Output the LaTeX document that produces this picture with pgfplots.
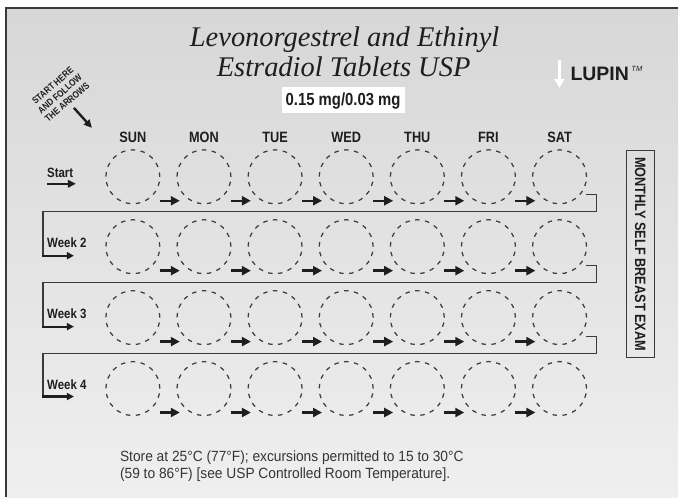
\documentclass[border=0pt]{standalone}
\usepackage{fontspec}
\usepackage{pgfplots}
\pgfplotsset{compat=1.18}
\usetikzlibrary{arrows.meta}
\setmainfont{Liberation Sans}
\newfontfamily\cond[FakeStretch=0.85]{Liberation Sans}
\newfontfamily\condwide[FakeStretch=0.93]{Liberation Sans}
\newfontfamily\serifit{Liberation Serif}
\definecolor{ink}{HTML}{1E1E1E}
\definecolor{rule}{HTML}{3A3A3A}
\definecolor{circ}{HTML}{3E3E3E}
\definecolor{bgtop}{HTML}{D7D7D7}
\definecolor{bgbot}{HTML}{EFEFEF}
\tikzset{txt/.style={inner sep=0pt, text=ink}}

\begin{document}
\begin{tikzpicture}
\begin{axis}[
  width=679bp, height=498bp, scale only axis,
  xmin=0, xmax=679, ymin=0, ymax=498, y dir=reverse,
  hide axis, clip=false,
]
% page and card background
\addplot[draw=none, fill=white] coordinates {(0,0) (679,0) (679,498) (0,498)};
\addplot[draw=none, top color=bgtop, bottom color=bgbot] coordinates {(6,8) (679,8) (679,498) (6,498)};
\addplot[rule, line width=1.6bp] coordinates {(6,498) (6,8) (679,8)};

% blister cavities, 4 weeks x 7 days
\addplot[only marks, mark=o, mark size=27bp,
  mark options={draw=circ, line width=1.25bp, dash pattern=on 4.5bp off 5.5bp}]
  coordinates {
  (133,177) (204.2,177) (275.4,177) (346.6,177) (417.8,177) (489,177) (560.2,177)
  (133,247) (204.2,247) (275.4,247) (346.6,247) (417.8,247) (489,247) (560.2,247)
  (133,318) (204.2,318) (275.4,318) (346.6,318) (417.8,318) (489,318) (560.2,318)
  (133,389) (204.2,389) (275.4,389) (346.6,389) (417.8,389) (489,389) (560.2,389)
  };

% day-to-day arrows
\addplot[ink, line width=2.4bp, quiver={u=20, v=0}, -{Triangle[length=9bp,width=9bp]}]
  coordinates {
  (160,201) (231.2,201) (302.4,201) (373.6,201) (444.8,201) (516,201)
  (160,271) (231.2,271) (302.4,271) (373.6,271) (444.8,271) (516,271)
  (160,342) (231.2,342) (302.4,342) (373.6,342) (444.8,342) (516,342)
  (160,413) (231.2,413) (302.4,413) (373.6,413) (444.8,413) (516,413)
  };

% week return paths
\addplot[rule, line width=1.4bp] coordinates {(587,195) (597,195) (597,212) (43,212) (43,256)};
\addplot[ink, line width=2.2bp, -{Triangle[length=7bp,width=7bp]}] coordinates {(42.3,256) (74,256)};
\addplot[rule, line width=1.4bp] coordinates {(587,266) (597,266) (597,283) (43,283) (43,327)};
\addplot[ink, line width=2.2bp, -{Triangle[length=7bp,width=7bp]}] coordinates {(42.3,327) (74,327)};
\addplot[rule, line width=1.4bp] coordinates {(587,337) (597,337) (597,354) (43,354) (43,397)};
\addplot[ink, line width=2.2bp, -{Triangle[length=7bp,width=7bp]}] coordinates {(42.3,397) (74,397)};

% start arrows
\addplot[ink, line width=2.4bp, -{Triangle[length=8bp,width=7.5bp]}] coordinates {(47,184) (76,184)};
\addplot[ink, line width=2.4bp, -{Triangle[length=8bp,width=7.5bp]}] coordinates {(74,108) (92,128)};

% strength box and exam box
\addplot[draw=none, fill=white] coordinates {(282,87) (405,87) (405,113) (282,113)};
\addplot[rule, line width=1.3bp, line join=miter] coordinates {(627,151) (655,151) (655,358) (627,358) (627,151) (655,151)};

% logo mark
\addplot[white, line width=3.2bp, -{Triangle[length=9bp,width=10bp]}] coordinates {(560,60) (560,88)};

% title
\node[txt, anchor=base, font={\serifit\itshape\fontsize{28.5bp}{30bp}\selectfont}] at (axis cs:345,47) {Levonorgestrel and Ethinyl};
\node[txt, anchor=base, font={\serifit\itshape\fontsize{28.5bp}{30bp}\selectfont}] at (axis cs:344,77) {Estradiol Tablets USP};
\node[txt, anchor=base, font={\cond\bfseries\fontsize{17.5bp}{20bp}\selectfont}] at (axis cs:343.5,106) {0.15 mg/0.03 mg};

% logo text
\node[txt, anchor=base west, font={\bfseries\fontsize{19.5bp}{21bp}\selectfont}] at (axis cs:571,80.5) {LUPIN};
\node[txt, anchor=base west, font={\itshape\fontsize{7.5bp}{8bp}\selectfont}] at (axis cs:632,72) {TM};

% start here note
\node[txt, rotate=41, align=center, font={\cond\bfseries\fontsize{9.5bp}{11bp}\selectfont}] at (axis cs:60,94) {START HERE\\AND FOLLOW\\THE ARROWS};

% day names
\node[txt, anchor=base, font={\cond\bfseries\fontsize{15bp}{17bp}\selectfont}] at (axis cs:133,142.5) {SUN};
\node[txt, anchor=base, font={\cond\bfseries\fontsize{15bp}{17bp}\selectfont}] at (axis cs:204.2,142.5) {MON};
\node[txt, anchor=base, font={\cond\bfseries\fontsize{15bp}{17bp}\selectfont}] at (axis cs:275.4,142.5) {TUE};
\node[txt, anchor=base, font={\cond\bfseries\fontsize{15bp}{17bp}\selectfont}] at (axis cs:346.6,142.5) {WED};
\node[txt, anchor=base, font={\cond\bfseries\fontsize{15bp}{17bp}\selectfont}] at (axis cs:417.8,142.5) {THU};
\node[txt, anchor=base, font={\cond\bfseries\fontsize{15bp}{17bp}\selectfont}] at (axis cs:489,142.5) {FRI};
\node[txt, anchor=base, font={\cond\bfseries\fontsize{15bp}{17bp}\selectfont}] at (axis cs:560.2,142.5) {SAT};

% week labels
\node[txt, anchor=base west, font={\cond\bfseries\fontsize{13.5bp}{15bp}\selectfont}] at (axis cs:47,178) {Start};
\node[txt, anchor=base west, font={\cond\bfseries\fontsize{13.5bp}{15bp}\selectfont}] at (axis cs:47,248) {Week 2};
\node[txt, anchor=base west, font={\cond\bfseries\fontsize{13.5bp}{15bp}\selectfont}] at (axis cs:47,319) {Week 3};
\node[txt, anchor=base west, font={\cond\bfseries\fontsize{13.5bp}{15bp}\selectfont}] at (axis cs:47,390) {Week 4};

% side label
\node[txt, rotate=-90, font={\cond\bfseries\fontsize{15bp}{17bp}\selectfont}] at (axis cs:641,254.5) {MONTHLY SELF BREAST EXAM};

% storage note
\node[txt, anchor=base west, text=ink!90, font={\condwide\fontsize{14.8bp}{17bp}\selectfont}] at (axis cs:120,462) {Store at 25°C (77°F); excursions permitted to 15 to 30°C};
\node[txt, anchor=base west, text=ink!90, font={\condwide\fontsize{14.8bp}{17bp}\selectfont}] at (axis cs:120,479) {(59 to 86°F) [see USP Controlled Room Temperature].};
\end{axis}
\end{tikzpicture}
\end{document}
